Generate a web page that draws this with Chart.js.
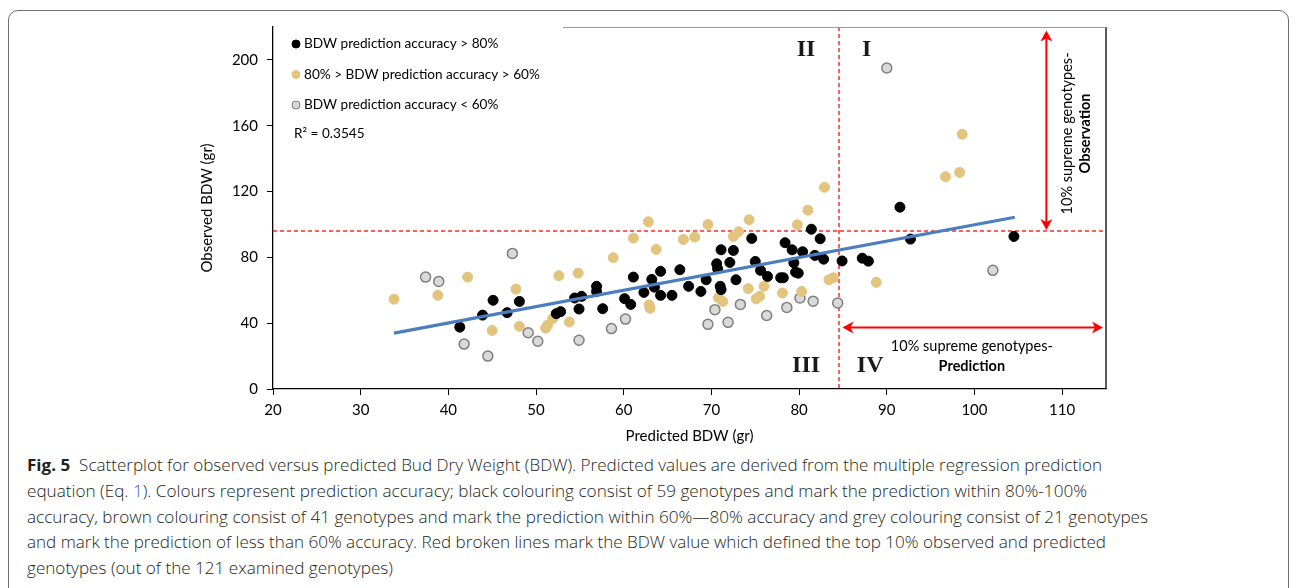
<!DOCTYPE html>
<html>
<head>
<meta charset="utf-8">
<script src="https://cdn.jsdelivr.net/npm/chart.js@4.4.1/dist/chart.umd.min.js"></script>
<style>
	body { margin: 0; width: 1296px; height: 588px; overflow: hidden; background: #fff; }
	.frame { position: absolute; left: 8px; top: 10px; width: 1279px; height: 640px; border: 1px solid #6d6e70; border-radius: 10px; }
	#wrap { position: absolute; left: 0; top: 0; width: 1296px; height: 450px; }
	.caption { position: absolute; left: 27px; top: 452px; font-family: 'Open Sans', sans-serif; font-size: 16.5px; font-weight: 300; line-height: 25.8px; color: #231f20; }
	.caption div { white-space: nowrap; width: max-content; transform-origin: 0 50%; }
	.caption b { font-weight: 700; }
	.caption .ref { color: #2f5fb3; }
</style>
</head>
<body>
<div class="frame"></div>
<div id="wrap"><canvas id="chart" width="1296" height="450"></canvas></div>
<div class="caption">
	<div><b>Fig. 5</b>&nbsp; Scatterplot for observed versus predicted Bud Dry Weight (BDW). Predicted values are derived from the multiple regression prediction</div>
	<div>equation (Eq. <span class="ref">1</span>). Colours represent prediction accuracy; black colouring consist of 59 genotypes and mark the prediction within 80%-100%</div>
	<div>accuracy, brown colouring consist of 41 genotypes and mark the prediction within 60%—80% accuracy and grey colouring consist of 21 genotypes</div>
	<div>and mark the prediction of less than 60% accuracy. Red broken lines mark the BDW value which defined the top 10% observed and predicted</div>
	<div>genotypes (out of the 121 examined genotypes)</div>
</div>
<script>
// predicted (x) vs observed (y) BDW, gr
const blackX = [41.3, 43.9, 45.1, 46.7, 48.1, 52.3, 52.8, 54.4, 54.9, 55.2, 56.9, 56.9, 57.6, 60.1, 60.8, 61.1, 62.3, 63.2, 63.5, 64.2, 64.2, 65.5, 66.4, 67.4, 68.8, 69.4, 70.6, 70.7, 71.0, 71.1, 71.1, 72.1, 72.5, 72.8, 74.6, 75.0, 75.6, 76.4, 77.9, 78.2, 78.4, 79.2, 79.4, 79.6, 79.9, 80.4, 81.4, 81.8, 82.4, 82.8, 84.9, 87.2, 87.9, 91.5, 92.7, 104.5];
const blackY = [37.6, 44.9, 53.9, 46.4, 53.2, 45.8, 47.0, 55.3, 48.6, 56.3, 62.4, 59.3, 48.8, 54.9, 51.4, 68.0, 58.7, 66.6, 61.9, 71.5, 56.9, 56.9, 72.5, 62.4, 59.3, 66.4, 76.1, 73.1, 62.4, 60.4, 84.6, 76.9, 84.2, 66.4, 91.5, 77.5, 72.1, 68.4, 67.6, 67.6, 88.9, 84.6, 76.7, 71.0, 70.4, 83.4, 97.1, 81.2, 91.3, 78.9, 77.8, 79.5, 77.7, 110.5, 91.1, 92.7];

const tanX = [33.8, 38.8, 42.2, 45.0, 47.7, 48.1, 51.1, 51.3, 51.9, 52.6, 53.8, 54.8, 58.8, 61.1, 62.8, 63.7, 62.9, 63.0, 66.8, 68.1, 69.6, 70.8, 71.3, 72.5, 73.1, 74.2, 74.3, 75.1, 75.5, 76.0, 78.1, 79.8, 80.3, 81.0, 82.9, 83.4, 83.9, 88.8, 96.7, 98.3, 98.6];
const tanY = [54.6, 56.9, 68.0, 35.6, 60.7, 38.1, 37.0, 38.7, 42.7, 68.9, 40.7, 70.4, 79.8, 91.7, 101.6, 84.8, 51.1, 49.0, 90.9, 92.3, 100.0, 55.4, 53.2, 92.7, 95.6, 61.0, 102.9, 54.8, 56.3, 62.4, 58.3, 99.8, 59.3, 108.7, 122.6, 66.4, 67.6, 64.8, 129.0, 131.6, 154.8];

const greyX = [37.4, 38.9, 47.3, 41.8, 44.5, 49.1, 50.2, 54.9, 58.6, 60.2, 69.6, 70.4, 71.9, 73.3, 76.3, 78.6, 80.1, 81.6, 84.4, 90.0, 102.1];
const greyY = [68.0, 65.4, 82.4, 27.3, 20.0, 34.2, 29.0, 29.6, 36.7, 42.5, 39.3, 48.2, 40.5, 51.4, 44.7, 49.6, 55.3, 53.4, 52.3, 195.1, 72.1];

const trendX = [33.8, 104.6];
const trendY = [34.0, 104.4];

const seriesLabels = ['BDW prediction accuracy > 80%', '80% > BDW prediction accuracy > 60%', 'BDW prediction accuracy < 60%'];
const rSquared = 'R² = 0.3545';

const observedCut = 96;
const predictedCut = 84.6;

const quadrants = [
	{ text: 'II', x: 80.8, y: 206 },
	{ text: 'I', x: 87.7, y: 206 },
	{ text: 'III', x: 80.8, y: 14 },
	{ text: 'IV', x: 88.1, y: 14 },
];

const BLACK = '#000000';
const TAN = '#e3c47f';
const GREY = '#d9d9d9';
const GREY_EDGE = '#7f7f7f';
const RED = '#ff0000';
const TEXT_FONT = 'Lato, "Open Sans", sans-serif';

function toPoints(xs, ys) {
	return xs.map((x, i) => ({ x, y: ys[i] }));
}

function drawArrowHead(ctx, x, y, angle) {
	ctx.save();
	ctx.translate(x, y);
	ctx.rotate(angle);
	ctx.beginPath();
	ctx.moveTo(0, 0);
	ctx.lineTo(-11, -6);
	ctx.lineTo(-8, 0);
	ctx.lineTo(-11, 6);
	ctx.closePath();
	ctx.fill();
	ctx.restore();
}

const overlay = {
	id: 'overlay',
	beforeDatasetsDraw(chart) {
		const { ctx, chartArea: area, scales: { x, y } } = chart;
		ctx.save();
		ctx.strokeStyle = '#ff2a2a';
		ctx.lineWidth = 1.5;
		ctx.setLineDash([4, 3]);
		const hy = Math.round(y.getPixelForValue(observedCut));
		ctx.beginPath();
		ctx.moveTo(area.left, hy);
		ctx.lineTo(area.right, hy);
		ctx.stroke();
		const vx = Math.round(x.getPixelForValue(predictedCut));
		ctx.beginPath();
		ctx.moveTo(vx, area.top);
		ctx.lineTo(vx, area.bottom);
		ctx.stroke();
		ctx.restore();
	},
	afterDraw(chart) {
		const { ctx, chartArea: area, scales: { x, y } } = chart;
		ctx.save();

		// plot frame: right and (part of the) top
		ctx.strokeStyle = '#000';
		ctx.lineWidth = 1.3;
		ctx.beginPath();
		ctx.moveTo(area.right, area.top);
		ctx.lineTo(area.right, area.bottom);
		ctx.stroke();
		ctx.strokeStyle = '#9a9a9a';
		ctx.lineWidth = 1;
		ctx.beginPath();
		ctx.moveTo(area.left + 290, area.top + 0.5);
		ctx.lineTo(area.right, area.top + 0.5);
		ctx.stroke();

		// double arrows
		ctx.strokeStyle = RED;
		ctx.fillStyle = RED;
		ctx.lineWidth = 2;
		const ax = x.getPixelForValue(108.2);
		const ay1 = y.getPixelForValue(observedCut) - 1;
		const ay2 = y.getPixelForValue(217.8);
		ctx.beginPath();
		ctx.moveTo(ax, ay1 - 6);
		ctx.lineTo(ax, ay2 + 6);
		ctx.stroke();
		drawArrowHead(ctx, ax, ay2, -Math.PI / 2);
		drawArrowHead(ctx, ax, ay1, Math.PI / 2);

		const hy = y.getPixelForValue(37.3);
		const hx1 = x.getPixelForValue(predictedCut) + 3;
		const hx2 = area.right - 3;
		ctx.beginPath();
		ctx.moveTo(hx1 + 6, hy);
		ctx.lineTo(hx2 - 6, hy);
		ctx.stroke();
		drawArrowHead(ctx, hx1, hy, Math.PI);
		drawArrowHead(ctx, hx2, hy, 0);

		// arrow texts
		ctx.fillStyle = '#000';
		ctx.textAlign = 'center';
		ctx.textBaseline = 'middle';
		const px = x.getPixelForValue(99.7);
		ctx.font = `14.5px ${TEXT_FONT}`;
		ctx.fillText('10% supreme genotypes-', px, hy + 19);
		ctx.font = `bold 14.5px ${TEXT_FONT}`;
		ctx.fillText('Prediction', px, hy + 39);

		ctx.save();
		ctx.translate(ax + 21, y.getPixelForValue(155.3));
		ctx.rotate(-Math.PI / 2);
		ctx.font = `14.5px ${TEXT_FONT}`;
		ctx.fillText('10% supreme genotypes-', 0, 0);
		ctx.font = `bold 14.5px ${TEXT_FONT}`;
		ctx.fillText('Observation', 0, 18);
		ctx.restore();

		// quadrant numerals
		ctx.fillStyle = '#1a1a1a';
		ctx.font = 'bold 24px "Liberation Serif", "DejaVu Serif", serif';
		for (const q of quadrants) {
			ctx.fillText(q.text, x.getPixelForValue(q.x), y.getPixelForValue(q.y));
		}

		// legend
		const colors = [[BLACK, BLACK], [TAN, TAN], [GREY, GREY_EDGE]];
		ctx.textAlign = 'left';
		ctx.font = `13.6px ${TEXT_FONT}`;
		seriesLabels.forEach((label, i) => {
			const ly = area.top + 17 + i * 30.5;
			ctx.beginPath();
			ctx.arc(area.left + 23, ly, 4, 0, Math.PI * 2);
			ctx.fillStyle = colors[i][0];
			ctx.fill();
			ctx.strokeStyle = colors[i][1];
			ctx.lineWidth = 1;
			ctx.stroke();
			ctx.fillStyle = '#000';
			ctx.fillText(label, area.left + 31, ly);
		});
		ctx.fillText(rSquared, area.left + 21, area.top + 107);

		ctx.restore();
	},
};

new Chart(document.getElementById('chart'), {
	type: 'scatter',
	data: {
		datasets: [
			{
				type: 'line',
				data: toPoints(trendX, trendY),
				borderColor: '#4a7ebf',
				borderWidth: 3.2,
				pointRadius: 0,
				fill: false,
				order: 0,
			},
			{
				label: seriesLabels[0],
				data: toPoints(blackX, blackY),
				backgroundColor: BLACK,
				borderColor: BLACK,
				pointRadius: 5,
				order: 1,
			},
			{
				label: seriesLabels[1],
				data: toPoints(tanX, tanY),
				backgroundColor: TAN,
				borderColor: TAN,
				pointRadius: 5,
				order: 2,
			},
			{
				label: seriesLabels[2],
				data: toPoints(greyX, greyY),
				backgroundColor: GREY,
				borderColor: GREY_EDGE,
				borderWidth: 1.5,
				pointRadius: 5,
				order: 3,
			},
		],
	},
	options: {
		responsive: false,
		animation: false,
		events: [],
		layout: { padding: { top: 27, right: 190, left: 0, bottom: 0 } },
		plugins: {
			legend: { display: false },
			tooltip: { enabled: false },
		},
		scales: {
			x: {
				type: 'linear',
				min: 20,
				max: 115,
				afterFit: (scale) => { scale.height = 61; },
				ticks: {
					stepSize: 10,
					includeBounds: false,
					padding: 6,
					color: '#000',
					font: { family: TEXT_FONT, size: 15 },
				},
				grid: { drawOnChartArea: false, drawTicks: true, tickLength: 6, color: '#000' },
				border: { color: '#000', width: 1.3 },
				title: {
					display: true,
					text: 'Predicted BDW (gr)',
					color: '#000',
					font: { family: TEXT_FONT, size: 15 },
					padding: { top: 0, bottom: 5 },
				},
			},
			y: {
				min: 0,
				max: 220,
				afterFit: (scale) => { scale.width = 273; },
				ticks: {
					stepSize: 40,
					includeBounds: false,
					padding: 9,
					color: '#000',
					font: { family: TEXT_FONT, size: 15 },
				},
				grid: { drawOnChartArea: false, drawTicks: true, tickLength: 6, color: '#000' },
				border: { color: '#000', width: 1.3 },
				title: {
					display: true,
					text: 'Observed BDW (gr)',
					color: '#000',
					font: { family: TEXT_FONT, size: 15 },
					padding: { top: 198, bottom: 0 },
				},
			},
		},
	},
	plugins: [overlay],
});

// caption: fit the justified lines to their printed widths; the last line
// gets the average squeeze of the others
const captionWidths = [1075, 1060, 1121, 1079];
const captionLines = Array.from(document.querySelectorAll('.caption div'));
const squeezes = captionWidths.map((w, i) => w / captionLines[i].getBoundingClientRect().width);
squeezes.push(squeezes.reduce((a, b) => a + b, 0) / squeezes.length);
captionLines.forEach((line, i) => {
	line.style.transform = `scaleX(${squeezes[i].toFixed(4)})`;
});
</script>
</body>
</html>
